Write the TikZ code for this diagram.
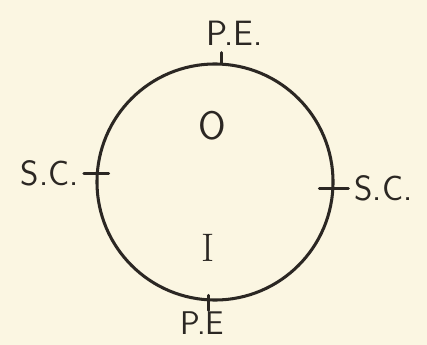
\documentclass[tikz,border=0pt]{standalone}
\usetikzlibrary{positioning}
\definecolor{paper}{HTML}{FBF6E2}
\definecolor{ink}{HTML}{2B2723}

\begin{document}
\begin{tikzpicture}[x=0.03cm, y=-0.03cm, node distance=0.15cm,
    tick/.style={draw=ink, line width=2.4pt, line cap=round},
    lbl/.style={text=ink, inner sep=0pt, font=\fontsize{30}{36}\selectfont\sffamily},
    big/.style={text=ink, inner sep=0pt, font=\fontsize{34}{40}\selectfont}]
      \fill [paper] (0,0) rectangle (427,345);
      \useasboundingbox (0,0) rectangle (427,345);

      \node (ring) [circle, draw=ink, line width=2.6pt, inner sep=0pt,
        minimum size=7.08cm] at (215,182) {};

      % marks on the ring
      \coordinate (tickW) at (ring.176);
      \coordinate (tickE) at (ring.-3);
      \coordinate (tickN) at (ring.87.6);
      \coordinate (tickS) at (ring.267.6);
      \coordinate (endW) at ([xshift=-0.36cm]tickW);
      \coordinate (endE) at ([xshift=0.42cm]tickE);
      \coordinate (endN) at ([yshift=0.3cm]tickN);
      \coordinate (endS) at ([yshift=-0.27cm]tickS);

      \path [tick] (endW) edge ([xshift=0.39cm]tickW)
      ([xshift=-0.45cm]tickE) edge (endE)
      ([yshift=-0.03cm]tickN) edge (endN)
      ([yshift=0.18cm]tickS) edge (endS);

      \node (scW) [lbl, left=of endW] {S.C.};
      \node (scE) [lbl, right=0.18cm of endE] {S.C.};
      \node (peN) [lbl, above=0.2cm of endN, xshift=0.39cm] {P.E.};
      \node (peS) [lbl, below=0.04cm of endS, xshift=-0.2cm,
        font=\fontsize{28}{34}\selectfont\sffamily] {P.E};

      \node (outer) [big, font=\fontsize{34}{40}\selectfont\sffamily] at (212,126) {O};
      \node (inner) [big] at (208,248) {I};
    \end{tikzpicture}
\end{document}
